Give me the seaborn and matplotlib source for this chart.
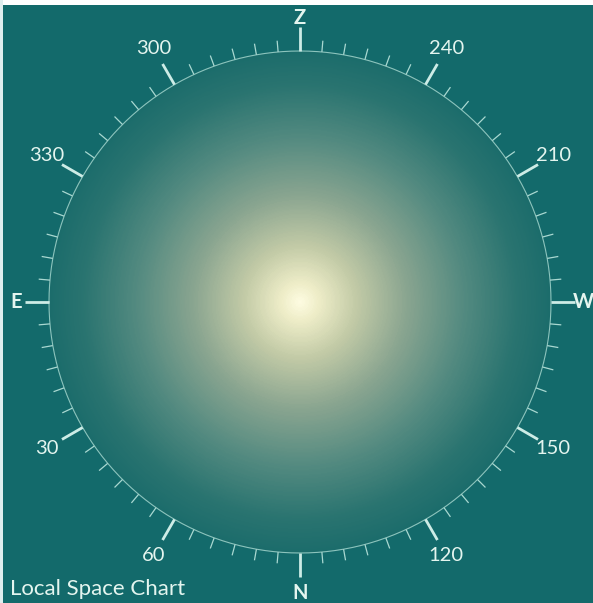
import numpy as np
import seaborn as sns
import matplotlib
matplotlib.use('Agg')
from matplotlib import pyplot as plt
from matplotlib.colors import LinearSegmentedColormap
from matplotlib.patches import Rectangle

sns.set_theme(style='white')
plt.rcParams['font.family'] = ['Lato', 'DejaVu Sans']

# azimuth scale: 0 = E (left), counter-clockwise, N at the bottom
tick_step = 5
label_angles = [0, 30, 60, 90, 120, 150, 180, 210, 240, 270, 300, 330]
label_texts = ['E', '30', '60', 'N', '120', '150', 'W', '210', '240', 'Z', '300', '330']

# radial glow of the sky dome, centre -> rim
glow_stops = [0.0, 0.07, 0.22, 0.42, 0.65, 0.86, 1.0]
glow_colors = ['#fdfbe0', '#eeedc8', '#c2caa6', '#8aa590', '#538a80', '#2a7470', '#1b6c6b']

BG = '#136a6b'
INK = '#cdece6'

fig = plt.figure(figsize=(5.93, 6.03), dpi=100, facecolor=BG)

cx, cy, rad, rmax = 300 / 593, 1 - 302 / 603, 251, 1.2
w = 2 * rad * rmax / 593
h = 2 * rad * rmax / 603
ax = fig.add_axes([cx - w / 2, cy - h / 2, w, h], projection='polar')
ax.set_theta_zero_location('W')
ax.set_theta_direction(1)
ax.set_ylim(0, rmax)
ax.set_facecolor('none')
ax.grid(False)
ax.set_xticks([])
ax.set_yticks([])
ax.spines['polar'].set_visible(False)

# gradient disk
cmap = LinearSegmentedColormap.from_list('glow', list(zip(glow_stops, glow_colors)))
th = np.linspace(0, 2 * np.pi, 361)
rr = np.linspace(0, 1, 200)
T, R = np.meshgrid(th, rr)
ax.pcolormesh(T, R, R[:-1, :-1], cmap=cmap, vmin=0, vmax=1, shading='flat', rasterized=True)

# rim
ax.plot(th, np.ones_like(th), color='#8cc4bd', lw=0.8)

# ticks
minor = np.arange(0, 360, tick_step)
for a in minor:
    t = np.deg2rad(a)
    major = a in label_angles
    r1 = 1.095 if major else 1.045
    ax.plot([t, t], [1, r1], color=INK if major else '#a9d8d1', lw=2.0 if major else 0.9,
            solid_capstyle='butt', clip_on=False)

# labels
for a, s in zip(label_angles, label_texts):
    t = np.deg2rad(a)
    r = 1.13 if s in ('E', 'W', 'Z') else 1.165
    if s == 'N':
        r = 1.16
    ax.text(t, r, s, color='#e4f5ef', fontsize=14.5, ha='center', va='center', clip_on=False,
            fontweight='bold' if s in ('E', 'W', 'Z', 'N') else 'normal')

fig.text(10 / 593, 1 - 589 / 603, 'Local Space Chart', color='#e4f5ef', fontsize=16, ha='left', va='center')

# light frame strips at top and left
fig.add_artist(Rectangle((0, 1 - 5 / 603), 1, 5 / 603, transform=fig.transFigure, color='white', lw=0))
fig.add_artist(Rectangle((0, 0), 3 / 593, 1, transform=fig.transFigure, color='#dfeeee', lw=0))

fig.savefig('out.png', dpi=100, facecolor=BG)
